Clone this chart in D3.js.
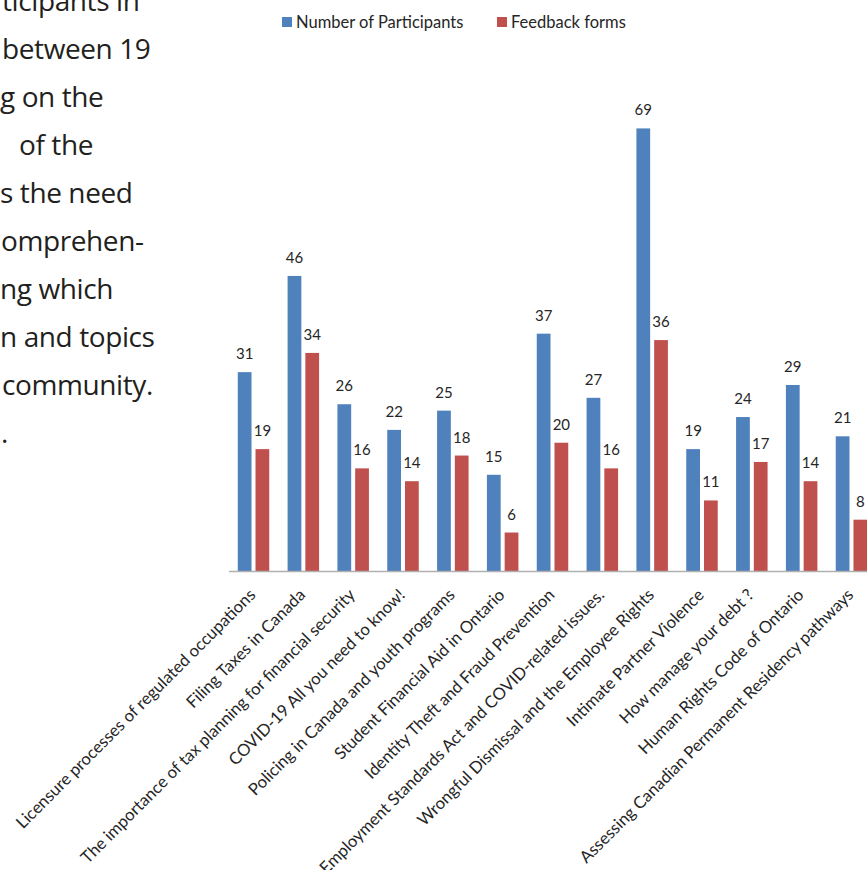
<!DOCTYPE html>
<html>
<head>
<meta charset="utf-8">
<script src="https://cdn.jsdelivr.net/npm/d3@7"></script>
<style>
body { margin: 0; background: #fff; }
svg { display: block; }
</style>
</head>
<body>
<svg id="chart" width="867" height="870"></svg>
<script>
var topics = [
    "Licensure processes of regulated occupations",
    "Filing Taxes in Canada",
    "The importance of tax planning for financial security",
    "COVID-19 All you need to know!",
    "Policing in Canada and youth programs",
    "Student Financial Aid in Ontario",
    "Identity Theft and Fraud Prevention",
    "Employment Standards Act and COVID-related issues.",
    "Wrongful Dismissal and the Employee Rights",
    "Intimate Partner Violence",
    "How manage your debt ?",
    "Human Rights Code of Ontario",
    "Assessing Canadian Permanent Residency pathways"
];
var participants = [31, 46, 26, 22, 25, 15, 37, 27, 69, 19, 24, 29, 21];
var feedback = [19, 34, 16, 14, 18, 6, 20, 16, 36, 11, 17, 14, 8];
var seriesNames = ["Number of Participants", "Feedback forms"];

// paragraph fragments left of the chart (page is cropped)
var bodyLines = [
    {t: "ticipants in", x: 2},
    {t: "between 19", x: 2},
    {t: "g on the", x: 0},
    {t: "of the", x: 19},
    {t: "s the need", x: 0},
    {t: "omprehen-", x: 1},
    {t: "ng which", x: 0},
    {t: "n and topics", x: 0},
    {t: "community.", x: 2},
    {t: ".", x: 1}
];

var svg = d3.select("#chart");
var colors = ["#4f81bd", "#c0504d"];
var base = 571;

svg.selectAll(".bodytxt").data(bodyLines).enter().append("text")
    .attr("class", "bodytxt")
    .attr("x", function(d) { return d.x; })
    .attr("y", function(d, i) { return 11 + i * 48; })
    .attr("font-family", "Open Sans")
    .attr("font-size", 28)
    .attr("letter-spacing", -0.4)
    .attr("fill", "#231f20")
    .text(function(d) { return d.t; });

var x0 = d3.scaleBand().domain(topics).range([228.6, 876.4]).paddingInner(0.368).paddingOuter(0.184);
var x1 = d3.scaleBand().domain([0, 1]).range([0, x0.bandwidth()]).paddingInner(0.225);
var y = d3.scaleLinear().domain([0, 70]).range([base, 122]);

var rows = topics.map(function(t, i) {
    return {topic: t, vals: [participants[i], feedback[i]]};
});

var g = svg.append("g");
var grp = g.selectAll(".grp").data(rows).enter().append("g")
    .attr("class", "grp")
    .attr("transform", function(d) { return "translate(" + x0(d.topic) + ",0)"; });

grp.selectAll("rect").data(function(d) { return d.vals; }).enter().append("rect")
    .attr("x", function(d, i) { return x1(i); })
    .attr("y", function(d) { return y(d); })
    .attr("width", x1.bandwidth())
    .attr("height", function(d) { return base - y(d); })
    .attr("fill", function(d, i) { return colors[i]; });

grp.selectAll(".val").data(function(d) { return d.vals; }).enter().append("text")
    .attr("class", "val")
    .attr("x", function(d, i) { return x1(i) + x1.bandwidth() / 2; })
    .attr("y", function(d) { return y(d) - 13; })
    .attr("text-anchor", "middle")
    .attr("font-family", "Lato")
    .attr("font-size", 15)
    .attr("fill", "#262626")
    .text(function(d) { return d; });

var xAxis = d3.axisBottom(x0).tickSize(0).tickSizeOuter(0);
var ax = svg.append("g").attr("transform", "translate(0," + base + ")").call(xAxis);
ax.select(".domain").attr("stroke", "#b0b0b0").attr("stroke-width", 1.5);
ax.selectAll(".tick text")
    .attr("font-family", "Lato")
    .attr("font-size", 16.7)
    .attr("fill", "#262626")
    .attr("text-anchor", "end")
    .attr("dy", 0)
    .attr("transform", "translate(3,25) rotate(-45)")
    .attr("y", 0)
    .attr("x", 0);

// legend, clipped on the right like the source image
svg.append("clipPath").attr("id", "legclip")
    .append("rect").attr("x", 0).attr("y", 0).attr("width", 627).attr("height", 60);
var leg = svg.append("g").attr("clip-path", "url(#legclip)");
var legX = [282, 497];
leg.selectAll("rect").data(seriesNames).enter().append("rect")
    .attr("x", function(d, i) { return legX[i]; })
    .attr("y", 17)
    .attr("width", 10)
    .attr("height", 10)
    .attr("fill", function(d, i) { return colors[i]; });
leg.selectAll("text").data(seriesNames).enter().append("text")
    .attr("x", function(d, i) { return legX[i] + 14; })
    .attr("y", 28)
    .attr("font-family", "Lato")
    .attr("font-size", 16.5)
    .attr("fill", "#262626")
    .text(function(d) { return d; });
</script>
</body>
</html>
